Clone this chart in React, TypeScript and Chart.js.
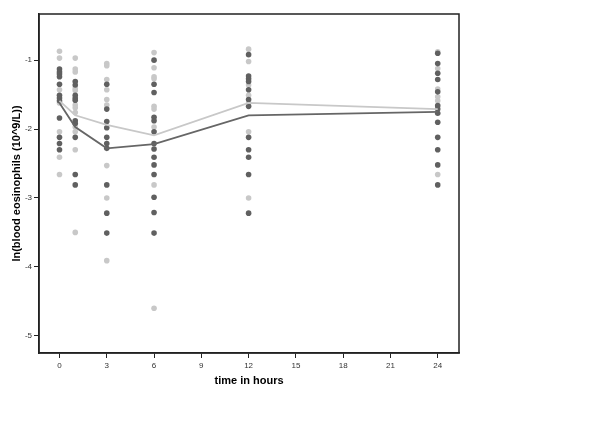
import React, { useEffect, useRef } from "react";
import { Chart, registerables } from "chart.js";

Chart.register(...registerables);

// time points (hours)
const hours = [0, 1, 3, 6, 12, 24];
const xTickValues = [0, 3, 6, 9, 12, 15, 18, 21, 24];
const yTickValues = [-1, -2, -3, -4, -5];

// light grey group: individual values per time point
const light0 = [-0.87, -0.97, -1.43, -1.62, -2.04, -2.41, -2.66];
const light1 = [-0.97, -1.13, -1.17, -1.41, -1.44, -1.65, -1.69, -1.76, -1.97, -2.04, -2.3, -3.5];
const light3 = [-1.05, -1.08, -1.28, -1.43, -1.57, -1.65, -2.53, -3.0, -3.91];
const light6 = [-0.89, -1.11, -1.24, -1.27, -1.67, -1.71, -1.97, -2.81, -4.6];
const light12 = [-0.84, -1.02, -1.36, -1.51, -1.62, -2.04, -3.0];
const light24 = [-0.88, -1.12, -1.42, -1.53, -1.59, -2.66];

// dark grey group: individual values per time point
const dark0 = [-1.13, -1.17, -1.2, -1.24, -1.35, -1.51, -1.55, -1.59, -1.84, -2.12, -2.21, -2.3];
const dark1 = [-1.31, -1.36, -1.51, -1.55, -1.58, -1.88, -1.92, -2.12, -2.66, -2.81];
const dark3 = [-1.35, -1.71, -1.89, -1.98, -2.12, -2.21, -2.28, -2.81, -3.22, -3.51];
const dark6 = [-1.0, -1.35, -1.47, -1.83, -1.88, -2.04, -2.21, -2.29, -2.41, -2.52, -2.66, -2.99, -3.21, -3.51];
const dark12 = [-0.92, -1.23, -1.27, -1.31, -1.43, -1.57, -1.67, -2.12, -2.3, -2.41, -2.66, -3.22];
const dark24 = [-0.9, -1.05, -1.19, -1.28, -1.46, -1.66, -1.71, -1.77, -1.9, -2.12, -2.3, -2.52, -2.81];

// group means
const lightMean = [-1.59, -1.8, -1.94, -2.09, -1.62, -1.71];
const darkMean = [-1.62, -1.97, -2.28, -2.22, -1.8, -1.75];

const LIGHT = "#c8c8c8";
const DARK = "#606060";

function toPoints(groups: number[][]) {
  const pts: { x: number; y: number }[] = [];
  groups.forEach((vals, i) => vals.forEach((v) => pts.push({ x: hours[i], y: v })));
  return pts;
}

const framePlugin = {
  id: "frame",
  afterDraw(chart: any) {
    const { ctx, chartArea } = chart;
    ctx.save();
    ctx.strokeStyle = "#222";
    ctx.lineWidth = 1.5;
    ctx.strokeRect(chartArea.left, chartArea.top, chartArea.right - chartArea.left, chartArea.bottom - chartArea.top);
    ctx.restore();
  },
};

export default function App() {
  const ref = useRef<HTMLCanvasElement | null>(null);
  useEffect(() => {
    if (!ref.current) return;
    const lightPts = toPoints([light0, light1, light3, light6, light12, light24]);
    const darkPts = toPoints([dark0, dark1, dark3, dark6, dark12, dark24]);
    const chart = new Chart(ref.current, {
      type: "scatter",
      data: {
        datasets: [
          {
            data: hours.map((h, i) => ({ x: h, y: darkMean[i] })),
            showLine: true,
            borderColor: "#666",
            borderWidth: 1.8,
            pointRadius: 0,
          } as any,
          {
            data: hours.map((h, i) => ({ x: h, y: lightMean[i] })),
            showLine: true,
            borderColor: LIGHT,
            borderWidth: 1.8,
            pointRadius: 0,
          } as any,
          {
            data: darkPts,
            backgroundColor: DARK,
            borderWidth: 0,
            pointRadius: 2.8,
          },
          {
            data: lightPts,
            backgroundColor: LIGHT,
            borderWidth: 0,
            pointRadius: 2.8,
          },
        ],
      },
      options: {
        animation: false,
        responsive: false,
        layout: { padding: { top: 14, right: 141, left: 0, bottom: 0 } },
        plugins: { legend: { display: false }, tooltip: { enabled: false } },
        scales: {
          x: {
            type: "linear",
            min: -1.3,
            max: 25.35,
            afterBuildTicks: (s: any) => {
              s.ticks = xTickValues.map((v) => ({ value: v }));
            },
            afterFit: (s: any) => {
              s.height = 71;
            },
            ticks: {
              font: { family: "'Liberation Sans', Arial", size: 8 },
              color: "#333",
              padding: 3,
              maxRotation: 0,
            },
            grid: { drawOnChartArea: false, drawTicks: true, tickLength: 5, color: "#222" },
            border: { display: true, color: "#222", width: 1.5 },
            title: {
              display: true,
              text: "time in hours",
              font: { family: "'Liberation Sans', Arial", size: 11, weight: "bold" },
              color: "#000",
              padding: { top: 0, bottom: 36 },
            },
          },
          y: {
            type: "linear",
            min: -5.25,
            max: -0.33,
            afterBuildTicks: (s: any) => {
              s.ticks = yTickValues.map((v) => ({ value: v }));
            },
            afterFit: (s: any) => {
              s.width = 39;
            },
            ticks: {
              font: { family: "'Liberation Sans', Arial", size: 8 },
              color: "#333",
              padding: 2,
            },
            grid: { drawOnChartArea: false, drawTicks: true, tickLength: 5, color: "#222" },
            border: { display: true, color: "#222", width: 1.5 },
            title: {
              display: true,
              text: "ln(blood eosinophils (10^9/L))",
              font: { family: "'Liberation Sans', Arial", size: 11, weight: "bold" },
              color: "#000",
              padding: { top: 10, bottom: 0 },
            },
          },
        },
      },
      plugins: [framePlugin],
    });
    return () => chart.destroy();
  }, []);
  return (
    <div style={{ position: "fixed", left: 0, top: 0, width: 600, height: 424, background: "#fff" }}>
      <canvas ref={ref} width={600} height={424} />
    </div>
  );
}
